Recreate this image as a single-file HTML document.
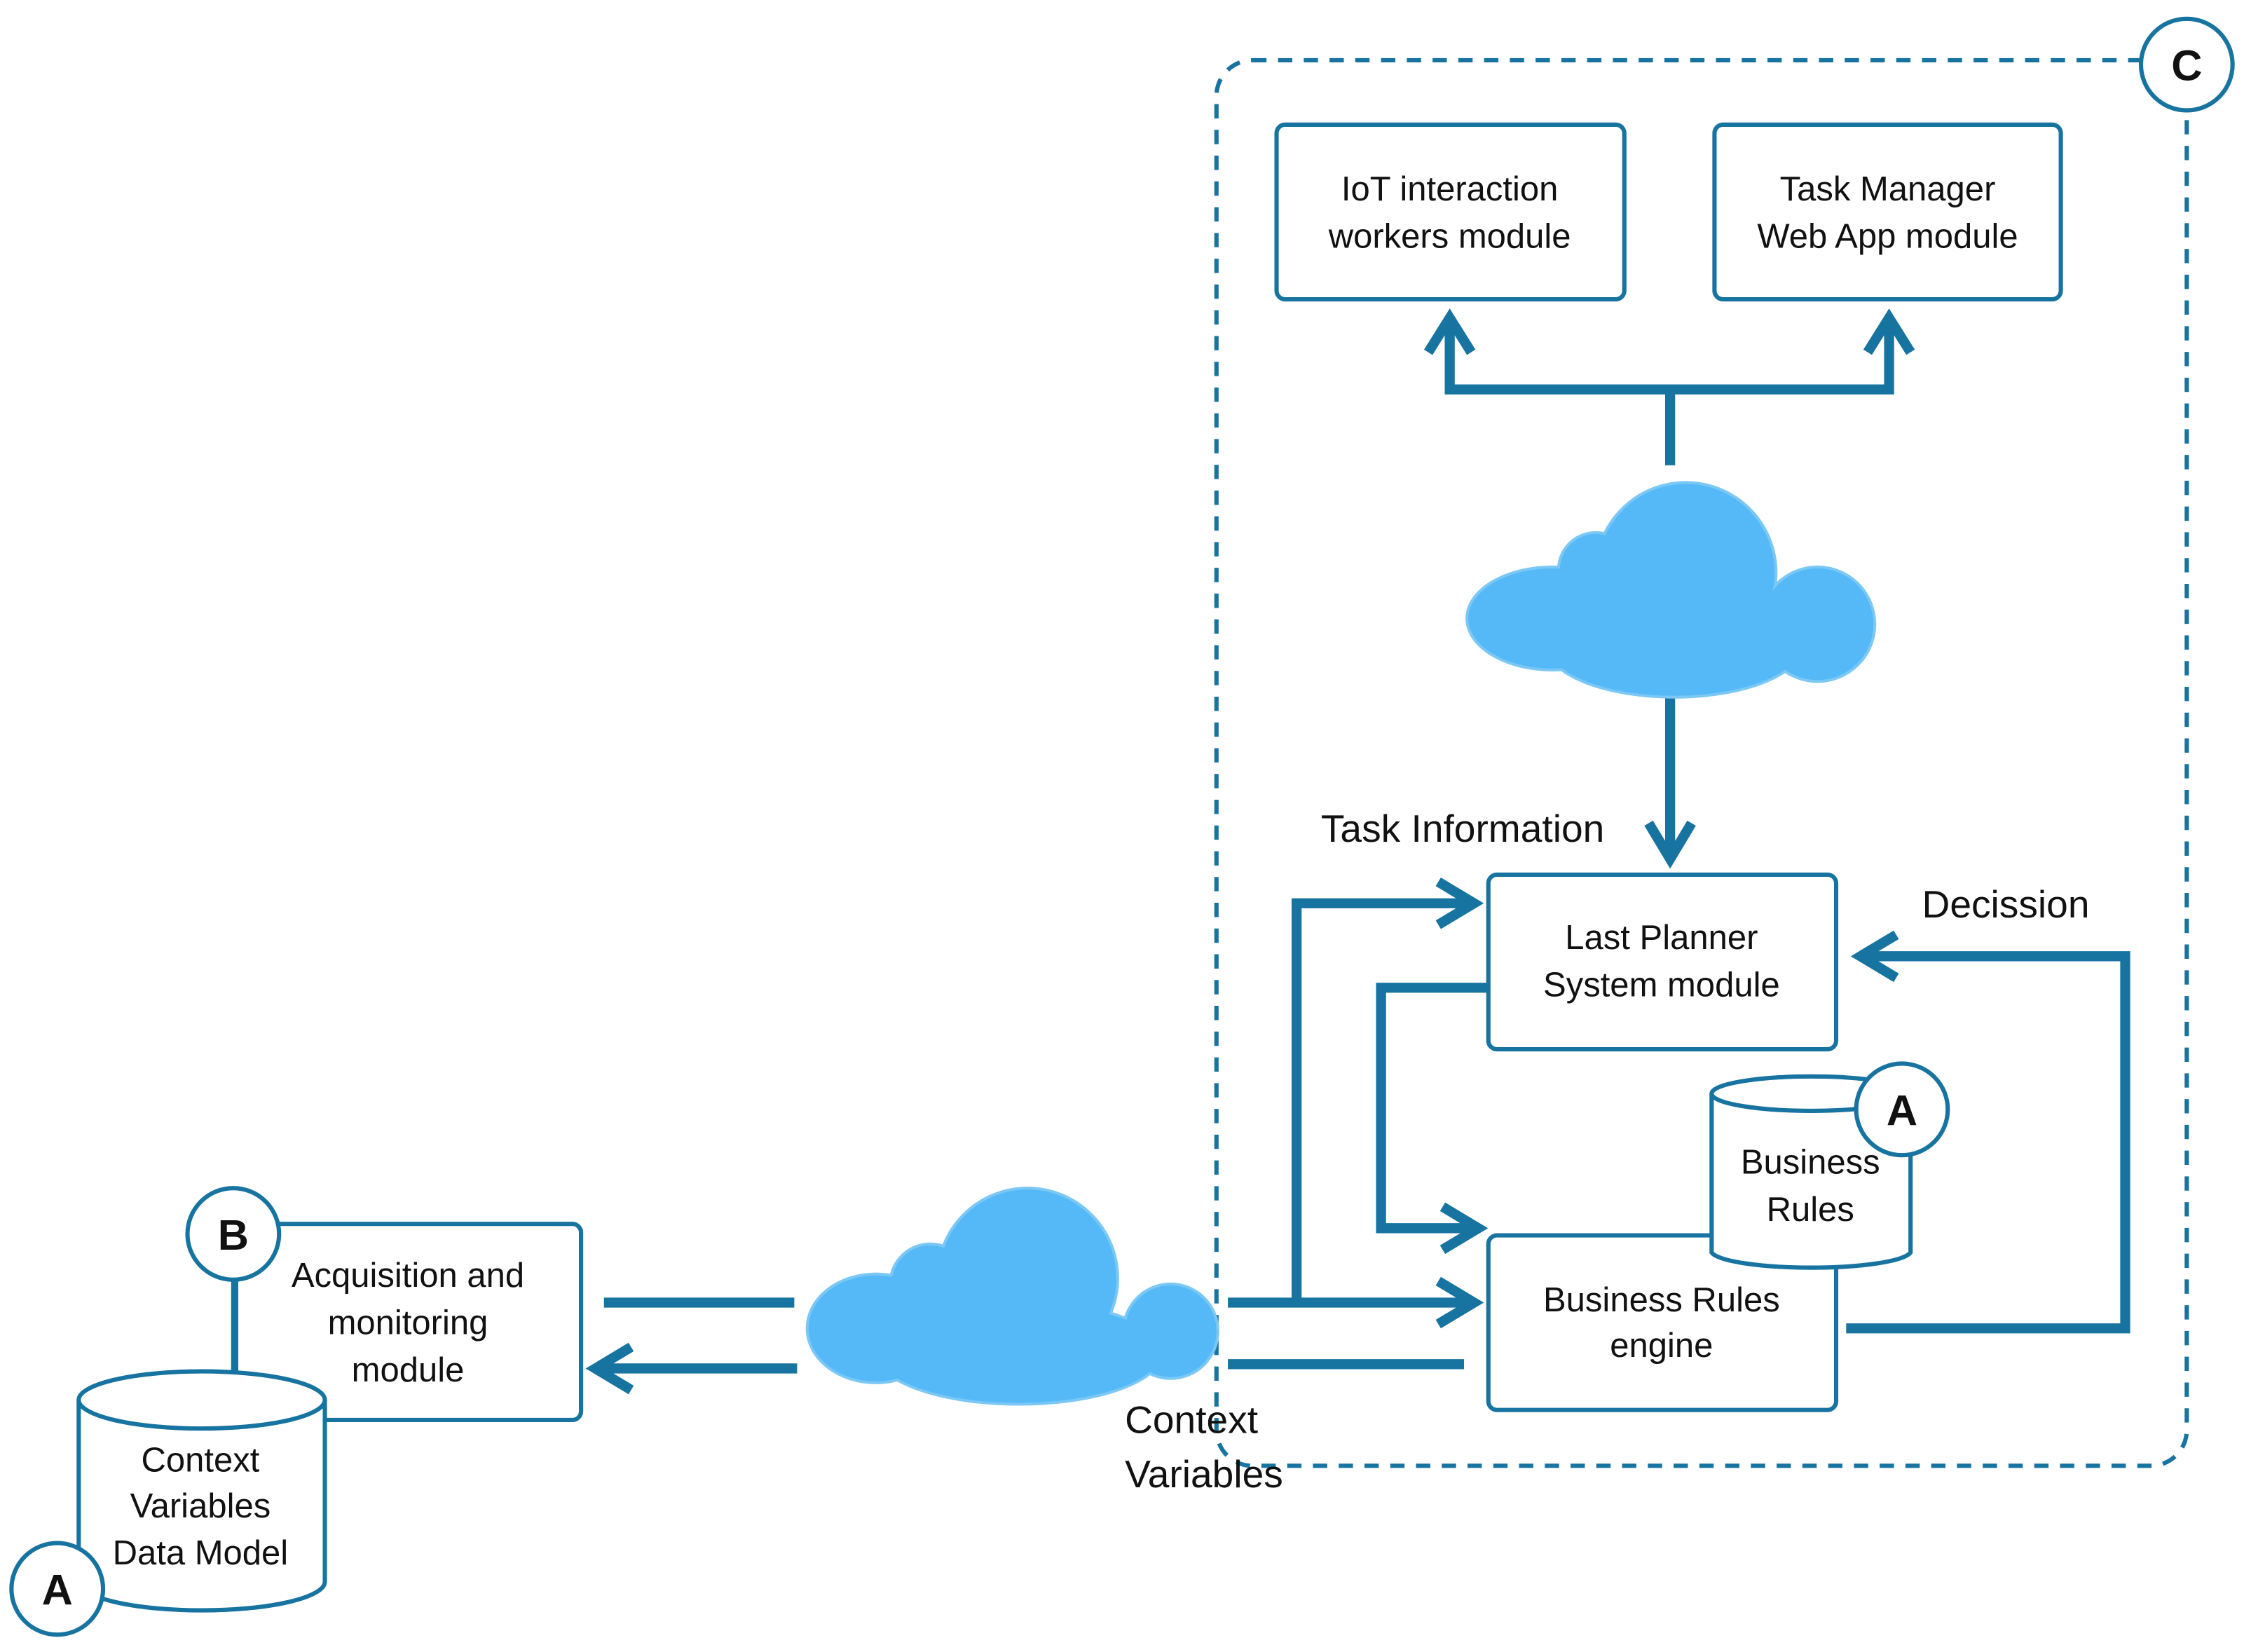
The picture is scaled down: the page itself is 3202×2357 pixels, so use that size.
<!DOCTYPE html>
<html><head><meta charset="utf-8"><style>
html,body{margin:0;padding:0;background:#fff;}
svg{display:block;}
text{font-family:"Liberation Sans",sans-serif;fill:#111;}
</style></head><body>
<svg width="3202" height="2357" viewBox="0 0 1568 1154" xmlns="http://www.w3.org/2000/svg">
<g fill="none" stroke="#1774a0" stroke-linecap="butt">
<rect x="850" y="42" width="678" height="982" rx="25" stroke-width="3" stroke-dasharray="10,8"/>
<g stroke-width="3">
<rect x="892" y="87" width="243" height="122" rx="6" fill="#fff"/>
<rect x="1198" y="87" width="242" height="122" rx="6" fill="#fff"/>
<rect x="1040" y="611" width="243" height="122" rx="6" fill="#fff"/>
<rect x="1040" y="863" width="243" height="122" rx="6" fill="#fff"/>
<rect x="165" y="855" width="241" height="137" rx="6" fill="#fff"/>
<line x1="163" y1="894" x2="163" y2="960"/>
</g>
<g stroke-width="7">
<polyline points="1167,325 1167,272 1013,272 1013,225"/>
<polyline points="1167,272 1320,272 1320,225"/>
<polyline points="998,246 1013,222 1028,246"/>
<polyline points="1305,246 1320,222 1335,246"/>
<line x1="1167" y1="487" x2="1167" y2="598"/>
<polyline points="1152,575 1167,600 1182,575"/>
<polyline points="1290,928 1485,928 1485,668 1302,668"/>
<polyline points="1325,653 1300,668 1325,683"/>
<polyline points="1040,690 965,690 965,858 1030,858"/>
<polyline points="1008,843 1033,858 1008,873"/>
<line x1="858" y1="910" x2="1028" y2="910"/>
<polyline points="906,910 906,631 1028,631"/>
<polyline points="1005,895 1030,910 1005,925"/>
<polyline points="1005,616 1030,631 1005,646"/>
<line x1="1023" y1="953" x2="858" y2="953"/>
<line x1="422" y1="910" x2="555" y2="910"/>
<line x1="557" y1="956" x2="418" y2="956"/>
<polyline points="441,941 416,956 441,971"/>
</g>
<g stroke-width="3" fill="#fff">
<path d="M1196,764 L1196,875 A70,12 0 0 0 1335,875 L1335,764"/>
<ellipse cx="1265.5" cy="764" rx="69.5" ry="12"/>
<path d="M55,978 L55,1105 A86,20 0 0 0 227,1105 L227,978"/>
<ellipse cx="141" cy="978" rx="86" ry="20"/>
<circle cx="1528" cy="45" r="32"/>
<circle cx="1329" cy="775" r="32"/>
<circle cx="163" cy="862" r="32"/>
<circle cx="40" cy="1110" r="32"/>
</g>
</g>
<g fill="#56b9f7" stroke="#7cc8f5" stroke-width="2">
<circle cx="1178" cy="400" r="63"/>
<ellipse cx="1085" cy="432" rx="60" ry="36"/>
<circle cx="1115" cy="398" r="26"/>
<circle cx="1270" cy="436" r="40"/>
<ellipse cx="1170" cy="450" rx="90" ry="37"/>
<circle cx="718" cy="893" r="63"/>
<ellipse cx="612" cy="928" rx="48" ry="38"/>
<circle cx="650" cy="897" r="28"/>
<circle cx="818" cy="930" r="33"/>
<ellipse cx="712" cy="945" rx="100" ry="36"/>
</g>
<g fill="#56b9f7">
<circle cx="1178" cy="400" r="62"/>
<ellipse cx="1085" cy="432" rx="59" ry="35"/>
<circle cx="1115" cy="398" r="25"/>
<circle cx="1270" cy="436" r="39"/>
<ellipse cx="1170" cy="450" rx="89" ry="36"/>
<circle cx="718" cy="893" r="62"/>
<ellipse cx="612" cy="928" rx="47" ry="37"/>
<circle cx="650" cy="897" r="27"/>
<circle cx="818" cy="930" r="32"/>
<ellipse cx="712" cy="945" rx="99" ry="35"/>
</g>
<g font-size="24" text-anchor="middle">
<text x="1013" y="140">IoT interaction</text>
<text x="1013" y="173">workers module</text>
<text x="1319" y="140">Task Manager</text>
<text x="1319" y="173">Web App module</text>
<text x="1161" y="663">Last Planner</text>
<text x="1161" y="696">System module</text>
<text x="1161" y="916">Business Rules</text>
<text x="1161" y="948">engine</text>
<text x="1265" y="820">Business</text>
<text x="1265" y="853">Rules</text>
<text x="285" y="899">Acquisition and</text>
<text x="285" y="932">monitoring</text>
<text x="285" y="965">module</text>
<text x="140" y="1028">Context</text>
<text x="140" y="1060">Variables</text>
<text x="140" y="1093">Data Model</text>
</g>
<g font-size="27">
<text x="923" y="588">Task Information</text>
<text x="1343" y="641">Decission</text>
<text x="786" y="1001">Context</text>
<text x="786" y="1039">Variables</text>
</g>
<g font-size="30" font-weight="bold" text-anchor="middle">
<text x="1528" y="56">C</text>
<text x="1329" y="786">A</text>
<text x="163" y="873">B</text>
<text x="40" y="1121">A</text>
</g>
</svg>
</body></html>
